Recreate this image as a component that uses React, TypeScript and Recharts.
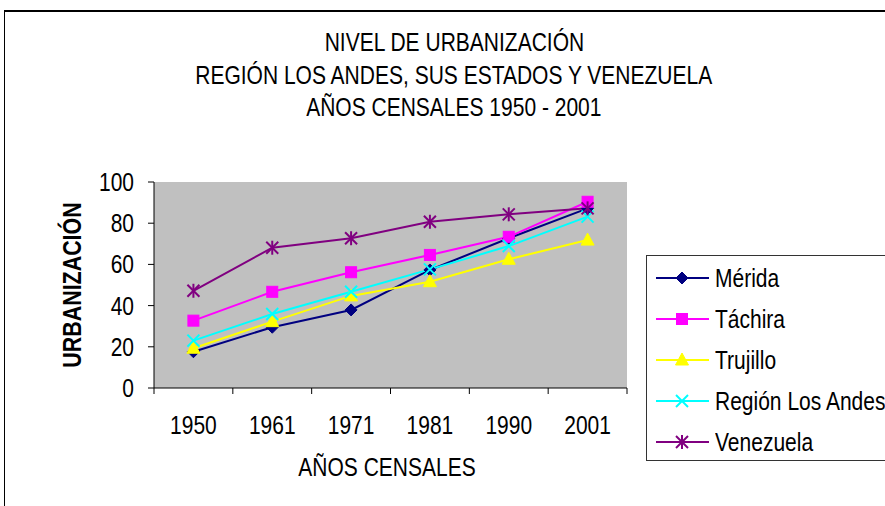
import React from 'react'
import { CartesianGrid, Label, Line, LineChart, XAxis, YAxis } from 'recharts'

const years = ['1950', '1961', '1971', '1981', '1990', '2001']
const merida = [17.6, 29.5, 37.9, 57.3, 72.7, 87.2]
const tachira = [32.7, 46.7, 56.2, 64.6, 73.4, 90.4]
const trujillo = [19.3, 32.2, 44.7, 51.6, 62.5, 71.8]
const regionAndes = [23.0, 35.9, 46.7, 57.6, 68.9, 83.2]
const venezuela = [47.2, 68.1, 72.7, 80.7, 84.3, 87.2]
const yTicks = [0, 20, 40, 60, 80, 100]
const titleLines = [
    'NIVEL DE URBANIZACIÓN',
    'REGIÓN LOS ANDES, SUS ESTADOS Y VENEZUELA',
    'AÑOS CENSALES 1950 - 2001',
]

const series = [
    { key: 'merida', name: 'Mérida', color: '#000080', shape: 'diamond' },
    { key: 'tachira', name: 'Táchira', color: '#FF00FF', shape: 'square' },
    { key: 'trujillo', name: 'Trujillo', color: '#FFFF00', shape: 'triangle' },
    { key: 'region', name: 'Región Los Andes', color: '#00FFFF', shape: 'cross' },
    { key: 'venezuela', name: 'Venezuela', color: '#800080', shape: 'star' },
]

const data = years.map((year, i) => ({
    year,
    merida: merida[i],
    tachira: tachira[i],
    trujillo: trujillo[i],
    region: regionAndes[i],
    venezuela: venezuela[i],
}))

// Liberation Sans squeezed horizontally stands in for Arial Narrow
const FONT = "'Liberation Sans', Arial, sans-serif"
const SQUEEZE = 0.84
const FS = 25
const W = 885
const H = 506
const PLOT_LEFT = 154
const PLOT_RIGHT = 627
const PLOT_TOP = 182
const PLOT_BOTTOM = 388
const BAND = (PLOT_RIGHT - PLOT_LEFT) / years.length

function NarrowText({ x, y, size = FS, anchor = 'middle', rotate = 0, bold = false, children }: any) {
    const rot = rotate ? ` rotate(${rotate})` : ''
    return (
        <text
            transform={`translate(${x},${y})${rot} scale(${SQUEEZE},1)`}
            textAnchor={anchor}
            fontSize={size}
            fontWeight={bold ? 'bold' : 'normal'}
            fontFamily={FONT}
            fill="#000"
        >
            {children}
        </text>
    )
}

function markerShape(shape: string, cx: number, cy: number, color: string) {
    switch (shape) {
        case 'diamond':
            return <polygon points={`${cx},${cy - 6} ${cx + 6},${cy} ${cx},${cy + 6} ${cx - 6},${cy}`} fill={color} stroke={color} />
        case 'square':
            return <rect x={cx - 5.5} y={cy - 5.5} width={11} height={11} fill={color} stroke={color} />
        case 'triangle':
            return <polygon points={`${cx},${cy - 7} ${cx + 6.5},${cy + 5} ${cx - 6.5},${cy + 5}`} fill={color} stroke={color} />
        case 'cross':
            return (
                <g stroke={color} strokeWidth={2}>
                    <line x1={cx - 6} y1={cy - 6} x2={cx + 6} y2={cy + 6} />
                    <line x1={cx - 6} y1={cy + 6} x2={cx + 6} y2={cy - 6} />
                </g>
            )
        default:
            return (
                <g stroke={color} strokeWidth={2}>
                    <line x1={cx - 6} y1={cy - 6} x2={cx + 6} y2={cy + 6} />
                    <line x1={cx - 6} y1={cy + 6} x2={cx + 6} y2={cy - 6} />
                    <line x1={cx} y1={cy - 7} x2={cx} y2={cy + 7} />
                </g>
            )
    }
}

function makeDot(shape: string, color: string) {
    return (props: any) => {
        const { cx, cy, index } = props
        if (cx == null || cy == null) return <g key={index} />
        return <g key={index}>{markerShape(shape, cx, cy, color)}</g>
    }
}

function YearTick(props: any) {
    const { x, y, payload, index } = props
    const left = x - BAND / 2
    return (
        <g>
            <line x1={left} x2={left} y1={y} y2={y + 6} stroke="#000" />
            {index === years.length - 1 && (
                <line x1={x + BAND / 2} x2={x + BAND / 2} y1={y} y2={y + 6} stroke="#000" />
            )}
            <NarrowText x={x} y={y + 46}>{payload.value}</NarrowText>
        </g>
    )
}

function ValueTick(props: any) {
    const { x, y, payload } = props
    return <NarrowText x={x} y={y + 9} anchor="end">{payload.value}</NarrowText>
}

const narrowHtml: React.CSSProperties = {
    display: 'inline-block',
    whiteSpace: 'nowrap',
    transform: `scaleX(${SQUEEZE})`,
}

function ChartLegend() {
    return (
        <div
            style={{
                position: 'absolute',
                left: 646,
                top: 255,
                width: 270,
                height: 204,
                border: '1px solid #333',
                background: '#fff',
                fontFamily: FONT,
                fontSize: FS,
                color: '#000',
            }}
        >
            {series.map((s, i) => (
                <div key={s.key} style={{ position: 'absolute', left: 0, top: 22 + i * 41 - 16, height: 32, display: 'flex', alignItems: 'center' }}>
                    <svg width={66} height={32} style={{ display: 'block' }}>
                        <line x1={9} x2={62} y1={16} y2={16} stroke={s.color} strokeWidth={2} />
                        {markerShape(s.shape, 35, 16, s.color)}
                    </svg>
                    <span style={{ ...narrowHtml, marginLeft: 2, transformOrigin: 'left center' }}>{s.name}</span>
                </div>
            ))}
        </div>
    )
}

export default function App() {
    return (
        <div style={{ position: 'absolute', left: 0, top: 0, width: W, height: H, overflow: 'hidden', background: '#fff' }}>
            <div style={{ position: 'absolute', left: 4, top: 10, width: 920, height: 540, border: '1px solid #000', borderTopWidth: 2 }} />
            {titleLines.map((t, i) => (
                <div
                    key={t}
                    style={{
                        position: 'absolute',
                        left: 0,
                        width: 908,
                        top: 42 + i * 32.5 - 16,
                        height: 32,
                        lineHeight: '32px',
                        textAlign: 'center',
                        fontFamily: FONT,
                        fontSize: FS,
                        color: '#000',
                    }}
                >
                    <span style={{ ...narrowHtml, transformOrigin: 'center' }}>{t}</span>
                </div>
            ))}
            <div style={{ position: 'absolute', left: 0, top: 0 }}>
                <LineChart
                    width={W}
                    height={H}
                    data={data}
                    margin={{ top: PLOT_TOP, right: W - PLOT_RIGHT, bottom: 68, left: 0 }}
                >
                    <CartesianGrid fill="#C0C0C0" horizontal={false} vertical={false} />
                    <XAxis
                        dataKey="year"
                        height={H - PLOT_BOTTOM - 68}
                        padding={{ left: BAND / 2, right: BAND / 2 }}
                        axisLine={{ stroke: '#000' }}
                        tickLine={false}
                        tickSize={0}
                        tickMargin={0}
                        tick={<YearTick />}
                        interval={0}
                    >
                        <Label content={() => <NarrowText x={387} y={476}>AÑOS CENSALES</NarrowText>} />
                    </XAxis>
                    <XAxis xAxisId="top" orientation="top" dataKey="year" height={0} tick={false} tickLine={false} axisLine={{ stroke: '#808080' }} />
                    <YAxis
                        domain={[0, 100]}
                        ticks={yTicks}
                        width={PLOT_LEFT}
                        axisLine={{ stroke: '#000' }}
                        tickLine={{ stroke: '#000' }}
                        tickSize={6}
                        tickMargin={14}
                        tick={<ValueTick />}
                    >
                        <Label
                            content={() => (
                                <NarrowText x={81} y={285} rotate={-90} size={25.5} bold>
                                    URBANIZACIÓN
                                </NarrowText>
                            )}
                        />
                    </YAxis>
                    <YAxis yAxisId="right" orientation="right" domain={[0, 100]} width={0} tick={false} tickLine={false} axisLine={{ stroke: '#808080' }} />
                    {series.map((s) => (
                        <Line
                            key={s.key}
                            dataKey={s.key}
                            name={s.name}
                            stroke={s.color}
                            strokeWidth={2}
                            dot={makeDot(s.shape, s.color)}
                            activeDot={false}
                            isAnimationActive={false}
                        />
                    ))}
                </LineChart>
            </div>
            <ChartLegend />
        </div>
    )
}
